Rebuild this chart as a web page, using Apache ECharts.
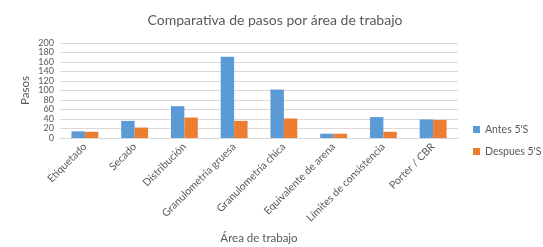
<!DOCTYPE html>
<html><head><meta charset="utf-8">
<script src="https://cdn.jsdelivr.net/npm/echarts@6/dist/echarts.min.js"></script>
<style>html,body{margin:0;padding:0;background:#fff}#c{width:543px;height:247px}</style>
</head><body><div id="c"></div>
<script>
const categories = ["Etiquetado","Secado","Distribución","Granulometría gruesa","Granulometría chica","Equivalente de arena","Límites de consistencia","Porter / CBR"];
const antes = [14, 36, 67, 171, 102, 9, 44, 39];
const despues = [13, 22, 43, 36, 41, 9, 13, 38];
const seriesNames = ["Antes 5'S", "Despues 5'S"];
const font = "Lato, 'Liberation Sans', sans-serif";
const chart = echarts.init(document.getElementById('c'), null, {renderer:'canvas'});
chart.setOption({
  animation:false,
  backgroundColor:'#fff',
  title:{text:'Comparativa de pasos por área de trabajo', left:270, top:8, textAlign:'center',
    textStyle:{fontFamily:font, fontSize:14, fontWeight:'normal', color:'#595959'}},
  legend:{orient:'vertical', left:473, top:124, width:70, itemWidth:7, itemHeight:7, itemGap:11, icon:'rect', padding:0,
    textStyle:{fontFamily:font, fontSize:10.5, color:'#595959', width:60, overflow:'none'}, data:seriesNames},
  grid:{left:60, right:85, top:43, bottom:109},
  xAxis:{type:'category', data:categories,
    name:'Área de trabajo', nameLocation:'middle', nameGap:94,
    nameTextStyle:{fontFamily:font, fontSize:11.5, color:'#595959'},
    axisLine:{lineStyle:{color:'#D9D9D9'}}, axisTick:{show:false},
    axisLabel:{rotate:45, interval:0, fontFamily:font, fontSize:10.5, color:'#595959', margin:7}},
  yAxis:{type:'value', min:0, max:200, interval:20,
    name:'Pasos', nameLocation:'middle', nameGap:29, nameRotate:90, nameMoveOverlap:false,
    nameTextStyle:{fontFamily:font, fontSize:11.5, color:'#595959'},
    axisLine:{show:false}, axisTick:{show:false},
    axisLabel:{fontFamily:font, fontSize:9, lineHeight:9, color:'#595959', margin:6, showMinLabel:true, showMaxLabel:true},
    splitLine:{lineStyle:{color:'#D9D9D9'}}},
  series:[
    {name:seriesNames[0], type:'bar', data:antes, itemStyle:{color:'#5B9BD5'}, barGap:'0%', barCategoryGap:'46%'},
    {name:seriesNames[1], type:'bar', data:despues, itemStyle:{color:'#ED7D31'}, barGap:'0%', barCategoryGap:'46%'}
  ]
});
</script></body></html>
